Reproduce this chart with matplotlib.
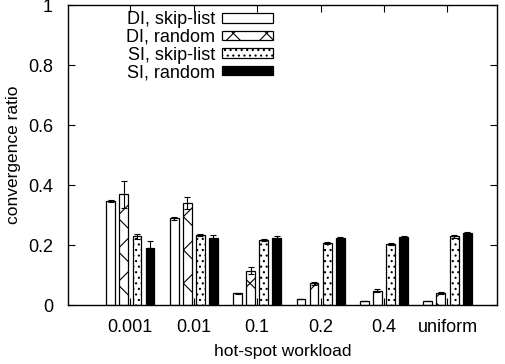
import numpy as np
import matplotlib
matplotlib.use("Agg")
import matplotlib.pyplot as plt

plt.rcParams['font.family'] = ['Liberation Sans', 'DejaVu Sans']
plt.rcParams['hatch.linewidth'] = 0.8

# workloads on the x axis
workloads = ["0.001", "0.01", "0.1", "0.2", "0.4", "uniform"]

# convergence ratio per series
di_skip = [0.347, 0.290, 0.039, 0.020, 0.013, 0.013]
di_rand = [0.369, 0.341, 0.114, 0.072, 0.048, 0.041]
si_skip = [0.229, 0.233, 0.216, 0.208, 0.203, 0.229]
si_rand = [0.190, 0.224, 0.225, 0.224, 0.227, 0.241]

# error bars
di_skip_err = [0.003, 0.005, 0.002, 0.001, 0.001, 0.001]
di_rand_err = [0.045, 0.020, 0.012, 0.005, 0.004, 0.003]
si_skip_err = [0.008, 0.004, 0.004, 0.003, 0.003, 0.004]
si_rand_err = [0.022, 0.008, 0.005, 0.003, 0.003, 0.004]

labels = ["DI, skip-list", "DI, random", "SI, skip-list", "SI, random"]

fig = plt.figure(figsize=(5.05, 3.64), dpi=100)
ax = fig.add_axes([0.135, 0.162, 0.849, 0.824])

x = np.arange(1, len(workloads) + 1)
w = 0.14
offs = [-0.31, -0.105, 0.105, 0.31]
series = [di_skip, di_rand, si_skip, si_rand]
errs = [di_skip_err, di_rand_err, si_skip_err, si_rand_err]
faces = ["white", "white", "white", "black"]
hatches = [None, "x", "...", None]

for i in range(4):
    ax.bar(x + offs[i], series[i], w, color=faces[i], edgecolor="black",
           hatch=hatches[i], linewidth=0.9, label=labels[i])
    ax.errorbar(x + offs[i], series[i], yerr=errs[i], fmt="none",
                ecolor="black", elinewidth=0.8, capsize=2.5, capthick=0.8)

ax.set_xlim(0.02, 6.78)
ax.set_ylim(0, 1)
ax.set_xticks(x)
ax.set_xticklabels(workloads)
ax.set_yticks([0, 0.2, 0.4, 0.6, 0.8, 1])
ax.set_yticklabels(["0", "0.2", "0.4", "0.6", "0.8", "1"])
ax.tick_params(direction="in", top=True, right=True, length=5, labelsize=13)
ax.tick_params(axis="x", pad=10)
ax.tick_params(axis="y", pad=11)
for s in ax.spines.values():
    s.set_linewidth(1.0)

ax.set_xlabel("hot-spot workload", fontsize=12.5, labelpad=6)
ax.set_ylabel("convergence ratio", fontsize=12.5, labelpad=5)

ax.legend(loc="upper right", bbox_to_anchor=(0.503, 1.015), frameon=False,
          markerfirst=False, fontsize=13, handlelength=2.8, handleheight=0.45,
          labelspacing=0.03, handletextpad=0.4, borderaxespad=0.2)

fig.savefig("out.png", dpi=100)
